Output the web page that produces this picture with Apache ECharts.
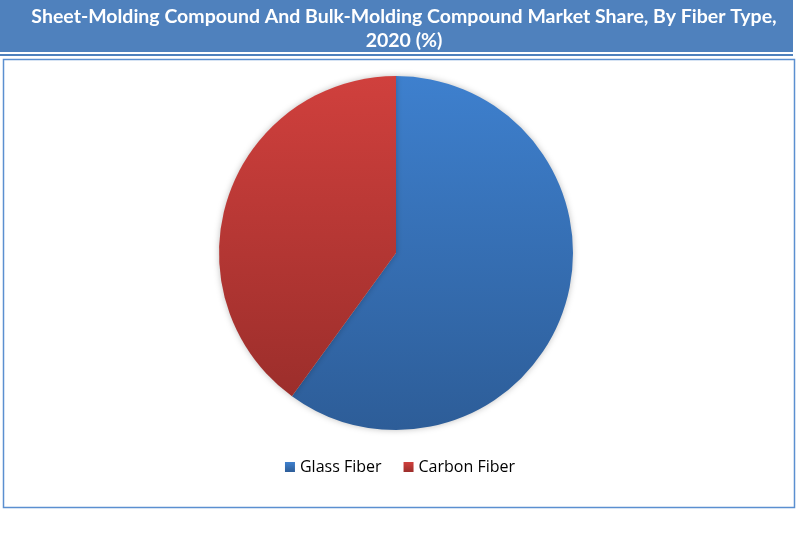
<!DOCTYPE html>
<html>
<head>
<meta charset="utf-8">
<script src="https://cdn.jsdelivr.net/npm/echarts@6/dist/echarts.min.js"></script>
<style>
html,body{margin:0;padding:0;background:#fff;}
#chart{width:800px;height:550px;}
</style>
</head>
<body>
<div id="chart"></div>
<script>
var categories = ['Glass Fiber', 'Carbon Fiber'];
var shares = [60, 40];
var titleLines = ['Sheet-Molding Compound And Bulk-Molding Compound Market Share, By Fiber Type,', '2020 (%)'];

var colors = [
    {top: '#3e80ce', bottom: '#2d5d98'},
    {top: '#d0403d', bottom: '#9c2e2b'}
];

var pieData = [];
for (var i = 0; i < categories.length; i++) {
    pieData.push({
        name: categories[i],
        value: shares[i],
        itemStyle: {
            color: new echarts.graphic.LinearGradient(0, 0, 0, 1, [
                {offset: 0, color: colors[i].top},
                {offset: 1, color: colors[i].bottom}
            ], false)
        }
    });
}

var myChart = echarts.init(document.getElementById('chart'));
var option = {
    backgroundColor: '#fff',
    animation: false,
    graphic: [
        {type: 'rect', left: 0, top: 0, shape: {width: 793, height: 52}, style: {fill: '#4f81bd'}, z: 0},
        {type: 'rect', left: 0, top: 54, shape: {width: 793, height: 2}, style: {fill: '#4f81bd'}, z: 0},
        {type: 'rect', left: 1, top: 57, shape: {width: 791, height: 448}, style: {fill: 'none', stroke: '#5b8fd0', lineWidth: 1.5}, z: 0}
    ],
    title: {
        text: titleLines.join('\n'),
        left: 399,
        textAlign: 'center',
        top: 0,
        textStyle: {
            color: '#fff',
            fontFamily: 'Lato',
            fontWeight: 'bold',
            fontSize: 19.5,
            lineHeight: 24
        }
    },
    legend: {
        data: categories,
        bottom: 70,
        left: 'center',
        icon: 'rect',
        itemWidth: 10,
        itemHeight: 10,
        itemGap: 22,
        textStyle: {
            color: '#000',
            fontFamily: 'Open Sans',
            fontSize: 16
        }
    },
    series: [{
        name: 'Fiber Type',
        type: 'pie',
        center: [396, 253],
        radius: 177,
        startAngle: 90,
        clockwise: true,
        label: {show: false},
        labelLine: {show: false},
        itemStyle: {
            borderWidth: 0,
            shadowBlur: 6,
            shadowColor: 'rgba(0,0,0,0.25)'
        },
        data: pieData
    }]
};
myChart.setOption(option);
</script>
</body>
</html>
